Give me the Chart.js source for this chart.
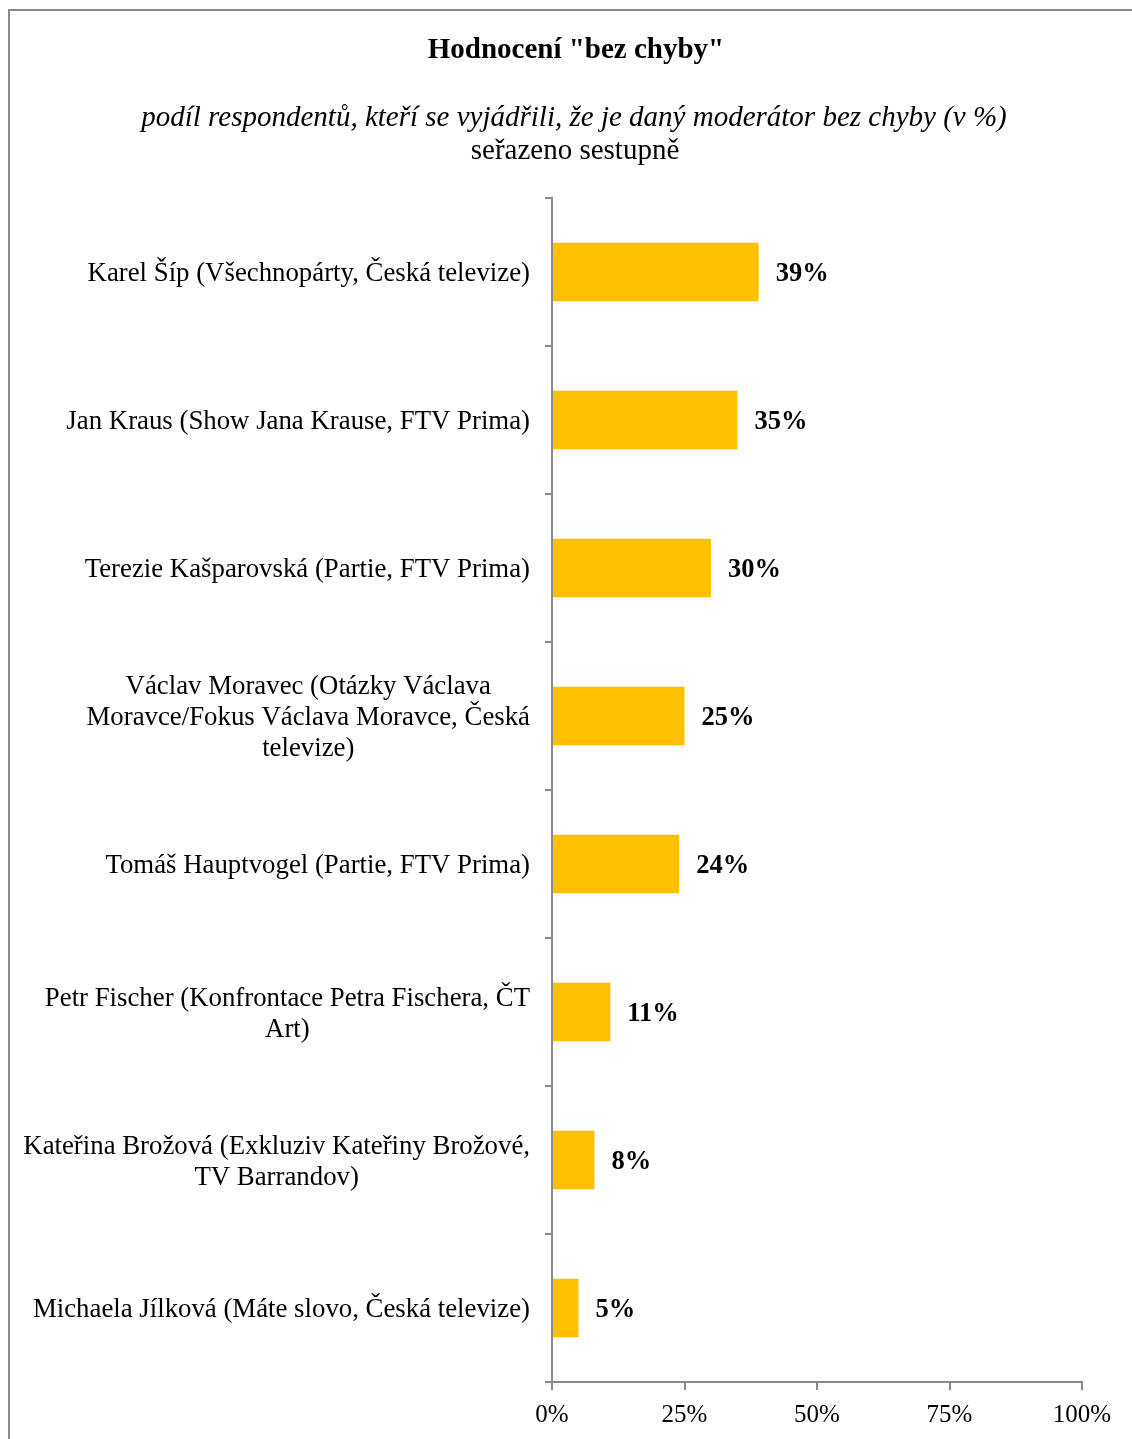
<!DOCTYPE html>
<html>
<head>
<meta charset="utf-8">
<script src="https://cdn.jsdelivr.net/npm/chart.js@4/dist/chart.umd.min.js"></script>
<style>
  html, body { margin: 0; padding: 0; background: #fff; }
  canvas { display: block; }
</style>
</head>
<body>
<canvas id="chart" width="1132" height="1439"></canvas>
<script>
// data
const categories = [
    ['Karel Šíp (Všechnopárty, Česká televize)'],
    ['Jan Kraus (Show Jana Krause, FTV Prima)'],
    ['Terezie Kašparovská (Partie, FTV Prima)'],
    ['Václav Moravec (Otázky Václava', 'Moravce/Fokus Václava Moravce, Česká', 'televize)'],
    ['Tomáš Hauptvogel (Partie, FTV Prima)'],
    ['Petr Fischer (Konfrontace Petra Fischera, ČT', 'Art)'],
    ['Kateřina Brožová (Exkluziv Kateřiny Brožové,', 'TV Barrandov)'],
    ['Michaela Jílková (Máte slovo, Česká televize)']
];
const values = [39, 35, 30, 25, 24, 11, 8, 5];
const xTicks = [0, 25, 50, 75, 100];
const titleText = 'Hodnocení "bez chyby"';
const subtitleText = 'podíl respondentů, kteří se vyjádřili, že je daný moderátor bez chyby (v %)';
const noteText = 'seřazeno sestupně';

const SERIF = "'Liberation Serif', 'Times New Roman', serif";
const GRAY = '#898989';

// rámeček + nadpisy
const headerPlugin = {
    id: 'header',
    beforeDraw(chart) {
        const ctx = chart.ctx;
        ctx.save();
        ctx.fillStyle = '#fff';
        ctx.fillRect(0, 0, chart.width, chart.height);
        ctx.strokeStyle = GRAY;
        ctx.lineWidth = 2;
        ctx.beginPath();
        ctx.moveTo(9, chart.height + 2);
        ctx.lineTo(9, 10);
        ctx.lineTo(chart.width + 2, 10);
        ctx.stroke();

        ctx.fillStyle = '#000';
        ctx.textAlign = 'center';
        ctx.textBaseline = 'middle';
        ctx.font = 'bold 29px ' + SERIF;
        ctx.fillText(titleText, 576, 51);
        ctx.font = 'italic 29px ' + SERIF;
        ctx.fillText(subtitleText, 574, 118);
        ctx.font = '29px ' + SERIF;
        ctx.fillText(noteText, 575, 151);
        ctx.restore();
    }
};

// popisky kategorií (blok zarovnaný vpravo, řádky na střed)
const catLabelPlugin = {
    id: 'catLabels',
    afterDraw(chart) {
        const ctx = chart.ctx;
        const yScale = chart.scales.y;
        const right = yScale.right - 22;
        const lineH = 31;
        ctx.save();
        ctx.font = '26.8px ' + SERIF;
        ctx.fillStyle = '#000';
        ctx.textAlign = 'center';
        ctx.textBaseline = 'middle';
        categories.forEach((lines, i) => {
            const y = yScale.getPixelForTick(i) + 2;
            const maxW = Math.max(...lines.map(l => ctx.measureText(l).width));
            const cx = right - maxW / 2;
            const y0 = y - (lines.length - 1) * lineH / 2;
            lines.forEach((l, j) => ctx.fillText(l, cx, y0 + j * lineH));
        });
        ctx.restore();
    }
};

// hodnoty u sloupců
const valueLabelPlugin = {
    id: 'valueLabels',
    afterDatasetsDraw(chart) {
        const ctx = chart.ctx;
        const meta = chart.getDatasetMeta(0);
        ctx.save();
        ctx.font = 'bold 26.5px ' + SERIF;
        ctx.fillStyle = '#000';
        ctx.textAlign = 'left';
        ctx.textBaseline = 'middle';
        meta.data.forEach((bar, i) => {
            ctx.fillText(values[i] + '%', bar.x + 17, bar.y + 2);
        });
        ctx.restore();
    }
};

new Chart(document.getElementById('chart'), {
    type: 'bar',
    data: {
        labels: categories.map(c => c.join(' ')),
        datasets: [{
            data: values,
            backgroundColor: '#FFC000',
            borderWidth: 0,
            barPercentage: 0.395,
            categoryPercentage: 1
        }]
    },
    options: {
        indexAxis: 'y',
        responsive: false,
        animation: false,
        devicePixelRatio: 1,
        layout: { padding: { top: 198, right: 50, left: 0, bottom: 0 } },
        plugins: {
            legend: { display: false },
            title: { display: false },
            tooltip: { enabled: false }
        },
        scales: {
            x: {
                min: 0,
                max: 100,
                afterBuildTicks: scale => { scale.ticks = xTicks.map(v => ({ value: v })); },
                afterFit: scale => { scale.height = 57; },
                ticks: {
                    callback: v => v + '%',
                    color: '#000',
                    font: { family: SERIF, size: 25 },
                    padding: 10,
                    maxRotation: 0
                },
                grid: { drawOnChartArea: false, drawTicks: true, tickLength: 8, color: GRAY, lineWidth: 2 },
                border: { color: GRAY, width: 2 }
            },
            y: {
                afterFit: scale => { scale.width = 552; },
                ticks: { display: false },
                grid: { offset: true, drawOnChartArea: false, drawTicks: true, tickLength: 7, color: GRAY, lineWidth: 2 },
                border: { color: GRAY, width: 2 }
            }
        }
    },
    plugins: [headerPlugin, catLabelPlugin, valueLabelPlugin]
});
</script>
</body>
</html>
